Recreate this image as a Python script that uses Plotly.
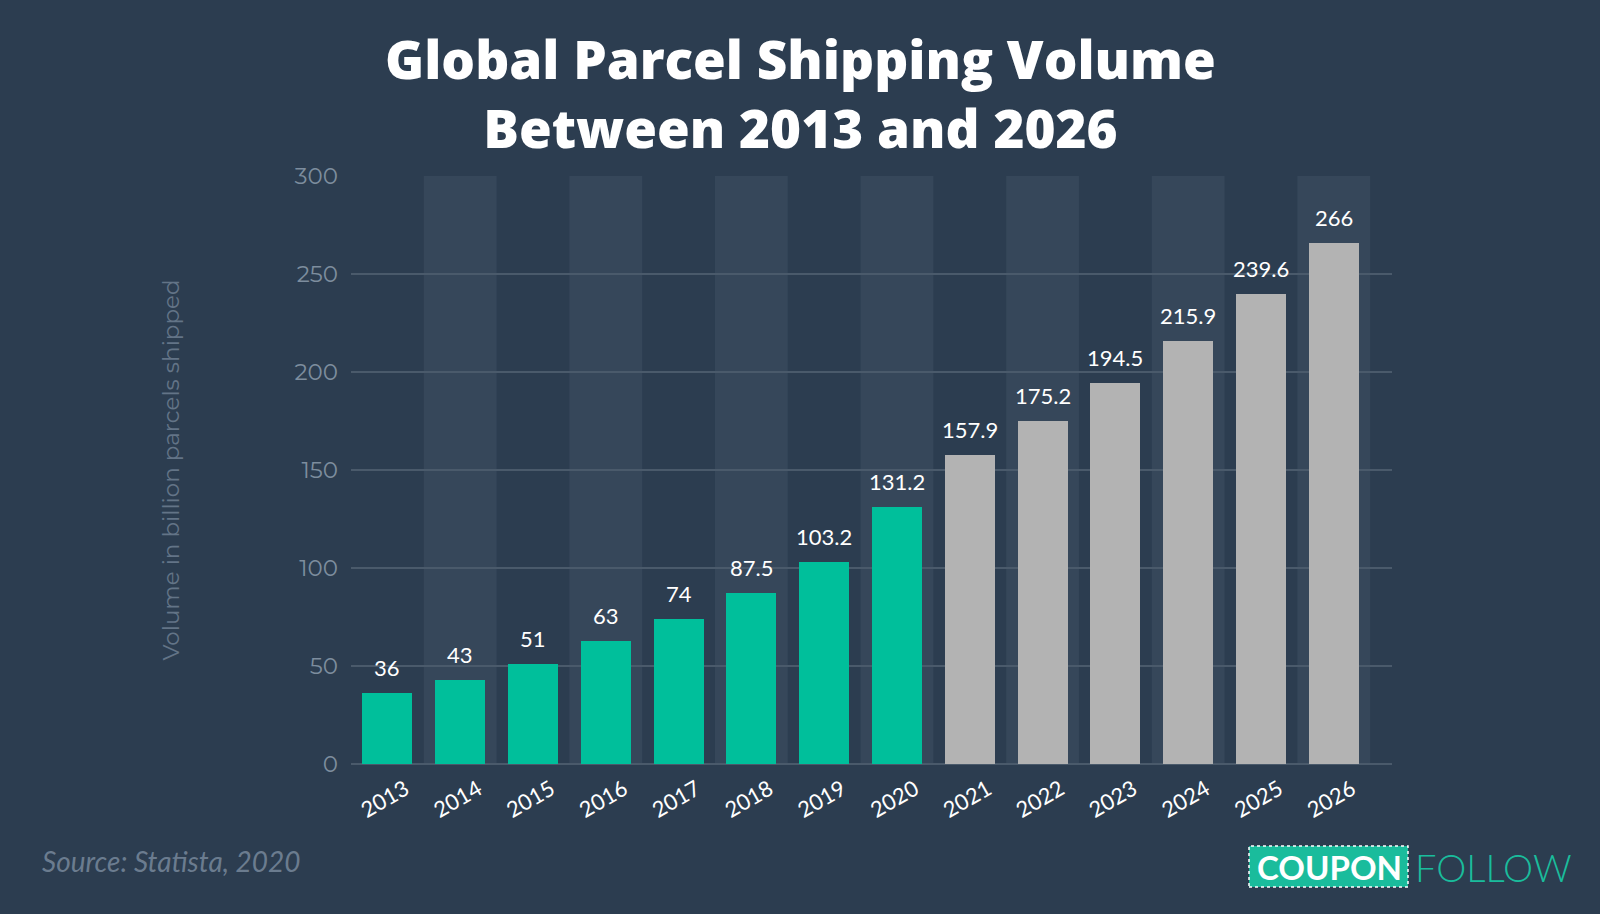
import plotly.graph_objects as go

years = ["2013", "2014", "2015", "2016", "2017", "2018", "2019",
         "2020", "2021", "2022", "2023", "2024", "2025", "2026"]
volumes = [36, 43, 51, 63, 74, 87.5, 103.2, 131.2, 157.9, 175.2, 194.5, 215.9, 239.6, 266]
labels = ["36", "43", "51", "63", "74", "87.5", "103.2", "131.2", "157.9",
          "175.2", "194.5", "215.9", "239.6", "266"]
actual_until = "2020"

BG = "#2c3d50"
BAND = "#36475a"
GRID = "#4a5a6b"
TEAL = "#00bf9b"
GRAY = "#b3b3b3"

W, H = 1600, 914
L, R, T, B = 351, 208, 176, 150
PW, PH = W - L - R, H - T - B


def px(x):
    return (x - L) / PW


def py(y):
    return (H - B - y) / PH


split = years.index(actual_until)
colors = [TEAL if i <= split else GRAY for i in range(len(years))]

fig = go.Figure()
fig.add_trace(go.Bar(
    x=list(range(len(years))), y=volumes, marker=dict(color=colors, line=dict(width=0)),
    width=0.686, hoverinfo="skip",
))

shapes = []
for i in range(len(years)):
    if i % 2 == 1:
        shapes.append(dict(type="rect", xref="x", yref="y", x0=i - 0.5, x1=i + 0.5,
                           y0=0, y1=300, fillcolor=BAND, line=dict(width=0), layer="below"))

annotations = []
for i, (v, t) in enumerate(zip(volumes, labels)):
    annotations.append(dict(x=i, y=v, text=t, showarrow=False, yanchor="bottom",
                            yshift=10, font=dict(family="Lato", size=22, color="white")))

# title
annotations.append(dict(x=px(800), y=py(93), xref="paper", yref="paper",
                        xanchor="center", yanchor="middle", showarrow=False, align="center",
                        text="Global Parcel Shipping Volume<br>Between 2013 and 2026",
                        font=dict(family="Open Sans", size=53, color="white", weight=800)))
# source
annotations.append(dict(x=px(40), y=py(861), xref="paper", yref="paper",
                        xanchor="left", yanchor="middle", showarrow=False,
                        text="<i>Source: Statista, 2020</i>",
                        font=dict(family="Lato", size=28, color="#6b7c8f")))
# logo
shapes.append(dict(type="rect", xref="paper", yref="paper",
                   x0=px(1249), x1=px(1408), y0=py(887), y1=py(846),
                   fillcolor="#1abc9c", line=dict(color="white", width=1.5, dash="dot")))
annotations.append(dict(x=px(1329), y=py(867), xref="paper", yref="paper",
                        xanchor="center", yanchor="middle", showarrow=False, text="<b>COUPON</b>",
                        font=dict(family="Lato", size=33, color="white")))
annotations.append(dict(x=px(1413), y=py(867), xref="paper", yref="paper",
                        xanchor="left", yanchor="middle", showarrow=False, text="FOLLOW",
                        font=dict(family="Lato", size=38, color="#1abc9c", weight=300)))

fig.update_layout(
    width=W, height=H,
    paper_bgcolor=BG, plot_bgcolor=BG,
    margin=dict(l=L, r=R, t=T, b=B),
    showlegend=False, bargap=0,
    shapes=shapes, annotations=annotations,
)
fig.update_xaxes(
    tickmode="array", tickvals=list(range(len(years))), ticktext=years,
    range=[-0.5, 13.8], tickangle=-30, showgrid=False, zeroline=False,
    tickfont=dict(family="Lato", size=22, color="white"),
    ticks="outside", ticklen=3, tickcolor=BG, showline=False, ticklabelshift=18,
)
fig.update_yaxes(
    range=[0, 300], tickvals=[0, 50, 100, 150, 200, 250, 300],
    showgrid=True, gridcolor=GRID, gridwidth=2, zeroline=True, zerolinecolor=GRID,
    zerolinewidth=2, tickfont=dict(family="Montserrat, Lato", size=23, color="#7d8d9e"),
    ticklabelstandoff=12,
    title=dict(text="Volume in billion parcels shipped", standoff=108,
               font=dict(family="Montserrat, Lato", size=23, color="#637487")),
)

fig.write_html("out.html")
